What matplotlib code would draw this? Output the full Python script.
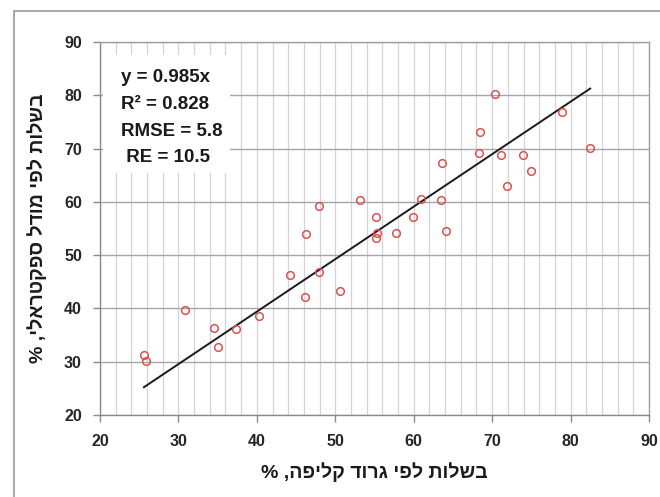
import matplotlib
matplotlib.use("Agg")
import matplotlib.pyplot as plt
from matplotlib.patches import Rectangle
from matplotlib.ticker import MultipleLocator

# Ripeness measured by peel scraping (x) vs. predicted by the spectral model (y), %
scraping = [25.6, 25.9, 30.8, 34.5, 35.1, 37.4, 40.3, 44.2, 46.1, 47.9,
            50.6, 46.3, 47.9, 53.1, 55.2, 55.3, 55.2, 57.8, 59.9, 60.9,
            63.5, 64.1, 63.6, 68.3, 68.5, 70.4, 71.1, 71.9, 73.9, 74.9,
            78.9, 82.5]
spectral = [31.3, 30.2, 39.7, 36.4, 32.7, 36.2, 38.6, 46.3, 42.1, 46.9,
            43.3, 53.9, 59.2, 60.4, 57.1, 54.2, 53.3, 54.1, 57.1, 60.6,
            60.4, 54.6, 67.2, 69.2, 73.1, 80.2, 68.8, 63.0, 68.8, 65.8,
            76.9, 70.2]
slope = 0.985
stats_lines = ["y = 0.985x", "R\u00b2 = 0.828", "RMSE = 5.8", " RE = 10.5"]
xlabel_text = "בשלות לפי גרוד קליפה, %"
ylabel_text = "בשלות לפי מודל ספקטראלי, %"


def visual(s):
    # matplotlib lays text out left to right, so Hebrew is given in visual order
    return s[::-1]


FONT = ["Liberation Sans", "DejaVu Sans"]

fig = plt.figure(figsize=(6.6, 4.97), dpi=100)
fig.patch.set_facecolor("white")

# outer chart frame
fig.add_artist(Rectangle((14 / 660, -0.05), 1.0, 1 - 11 / 497 + 0.05,
                         transform=fig.transFigure, fill=False,
                         edgecolor="#9a9a9a", linewidth=1.2))

ax = fig.add_axes([100 / 660, 1 - 415 / 497, 549 / 660, 373 / 497])
ax.set_xlim(20, 90)
ax.set_ylim(20, 90)
ax.xaxis.set_major_locator(MultipleLocator(10))
ax.xaxis.set_minor_locator(MultipleLocator(2))
ax.yaxis.set_major_locator(MultipleLocator(10))

ax.grid(which="minor", axis="x", color="#d4d4d4", linewidth=0.9)
ax.grid(which="major", axis="x", color="#d4d4d4", linewidth=0.9)
ax.grid(which="major", axis="y", color="#a6a6a6", linewidth=1.0)
ax.set_axisbelow(True)

for side in ["top", "right"]:
    ax.spines[side].set_color("#a0a0a0")
for side in ["left", "bottom"]:
    ax.spines[side].set_color("#8a8a8a")
for sp in ax.spines.values():
    sp.set_linewidth(1.0)

ax.tick_params(which="major", direction="out", length=5, width=1,
               color="#8a8a8a")
ax.tick_params(axis="y", pad=8)
ax.tick_params(axis="x", pad=9)
ax.tick_params(which="minor", length=0)
for lab in ax.get_xticklabels() + ax.get_yticklabels():
    lab.set_fontfamily(FONT)
    lab.set_fontweight("bold")
    lab.set_fontsize(11.5)
    lab.set_color("#262626")

# white panel behind the statistics
ax.add_patch(Rectangle((0.005, 0.649), 0.232, 0.316, transform=ax.transAxes,
                       facecolor="white", edgecolor="none", zorder=1.5))
ax.text(21 / 549, 1 - 27 / 373, "\n".join(stats_lines), transform=ax.transAxes,
        ha="left", va="top", fontsize=13.5, fontweight="bold",
        family=FONT, color="#1a1a1a", linespacing=1.75, zorder=3)

# fitted line through the origin, spanning the measured range
x0, x1 = min(scraping), max(scraping)
ax.plot([x0, x1], [slope * x0, slope * x1], color="#1a1a1a", linewidth=1.4,
        zorder=3)

ax.plot(scraping, spectral, linestyle="none", marker="o", markersize=5.5,
        markerfacecolor="none", markeredgecolor="#d9534f",
        markeredgewidth=1.1, zorder=4)

ax.set_xlabel(visual(xlabel_text), family=FONT, fontsize=14,
              fontweight="bold", color="#1a1a1a", labelpad=9)
ax.set_ylabel(visual(ylabel_text), family=FONT, fontsize=14,
              fontweight="bold", color="#1a1a1a", labelpad=12)

fig.savefig("out.png", dpi=100, facecolor="white")
